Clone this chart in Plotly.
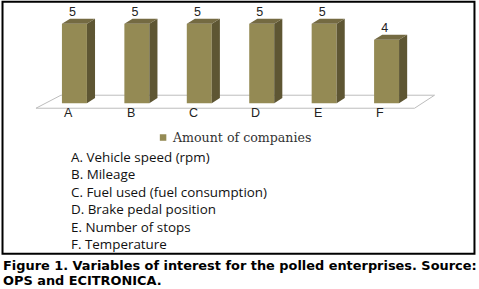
import plotly.graph_objects as go

categories = ["A", "B", "C", "D", "E", "F"]
values = [5, 5, 5, 5, 5, 4]
descriptions = [
    "A. Vehicle speed (rpm)",
    "B. Mileage",
    "C. Fuel used (fuel consumption)",
    "D. Brake pedal position",
    "E. Number of stops",
    "F. Temperature",
]
series_name = "Amount of companies"
caption_lines = [
    "Figure 1. Variables of interest for the polled enterprises. Source:",
    "OPS and ECITRONICA.",
]

W, H = 479, 289
ML, MR, MT, MB = 12, 29.5, 8.2, 170.2
PW = W - ML - MR
PH = H - MT - MB


def px(x):
    return (x - ML) / PW


def py(y):
    return (H - MB - y) / PH


FRONT = "#948A54"
SIDE = "#5E5633"
TOP = "#746A42"

bw = 0.4
dx = 0.13
dy = 0.32
idx = list(range(len(categories)))

fig = go.Figure()
fig.add_trace(go.Bar(x=idx, y=values, width=bw, marker=dict(color=FRONT, line=dict(width=0)),
                     showlegend=False, hoverinfo="skip"))

sx, sy, tx, ty = [], [], [], []
for i, v in zip(idx, values):
    r = i + bw / 2
    l = i - bw / 2
    sx += [r, r + dx, r + dx, r, r, None]
    sy += [0, dy, v + dy, v, 0, None]
    tx += [l, l + dx, r + dx, r, l, None]
    ty += [v, v + dy, v + dy, v, v, None]
fig.add_trace(go.Scatter(x=sx, y=sy, fill="toself", mode="none", fillcolor=SIDE,
                         showlegend=False, hoverinfo="skip"))
fig.add_trace(go.Scatter(x=tx, y=ty, fill="toself", mode="none", fillcolor=TOP,
                         showlegend=False, hoverinfo="skip"))
fig.add_trace(go.Scatter(x=[i - 0.03 for i in idx], y=[v + dy for v in values],
                         mode="text", text=[str(v) for v in values],
                         textposition="top center",
                         textfont=dict(family="Liberation Sans, Arial", size=12.5, color="#222"),
                         showlegend=False, hoverinfo="skip", cliponaxis=False))

n = len(categories)
floor_path = (f"M {-0.616} {-0.32} L {n - 1 + 0.448} {-0.32} "
              f"L {n - 1 + 0.768} {0.5} L {-0.216} {0.5} Z")
shapes = [
    dict(type="path", xref="x", yref="y", path=floor_path, fillcolor="white",
         line=dict(color="#BDBDBD", width=1), layer="below"),
    dict(type="rect", xref="paper", yref="paper", x0=px(2.5), x1=px(475), y0=py(2), y1=py(253),
         line=dict(color="black", width=2), layer="above"),
    dict(type="rect", xref="paper", yref="paper", x0=px(160), x1=px(166.5), y0=py(134), y1=py(140.5),
         fillcolor=FRONT, line=dict(width=0)),
]

annotations = []
for i, c in zip(idx, categories):
    annotations.append(dict(x=i - 0.1, y=-0.63, xref="x", yref="y", text=c, showarrow=False,
                            font=dict(family="Liberation Sans, Arial", size=12.5, color="#222"),
                            xanchor="center", yanchor="middle"))
annotations.append(dict(x=px(170), y=py(137.5), xref="paper", yref="paper", text=series_name,
                        showarrow=False, xanchor="left", yanchor="middle",
                        font=dict(family="DejaVu Serif", size=12.6, color="#333")))
annotations.append(dict(x=px(69), y=py(145.5), xref="paper", yref="paper",
                        text="<br>".join(descriptions), align="left",
                        showarrow=False, xanchor="left", yanchor="top",
                        font=dict(family="Open Sans", size=13.4, color="#111")))
for k, line in enumerate(caption_lines):
    annotations.append(dict(x=px(1), y=py(265 + k * 14.5), xref="paper", yref="paper",
                            text="<b>" + line + "</b>", showarrow=False, xanchor="left",
                            yanchor="middle",
                            font=dict(family="DejaVu Sans", size=12.9, color="#000")))

fig.update_layout(
    width=W, height=H,
    margin=dict(l=ML, r=MR, t=MT, b=MB, pad=0),
    paper_bgcolor="white", plot_bgcolor="white",
    xaxis=dict(range=[-1, 6], visible=False, fixedrange=True),
    yaxis=dict(range=[-1, 6], visible=False, fixedrange=True),
    shapes=shapes, annotations=annotations, showlegend=False,
)

fig.write_html("out.html", config={"displayModeBar": False},
               post_script="document.body.style.margin='0';document.body.style.overflow='hidden';")
